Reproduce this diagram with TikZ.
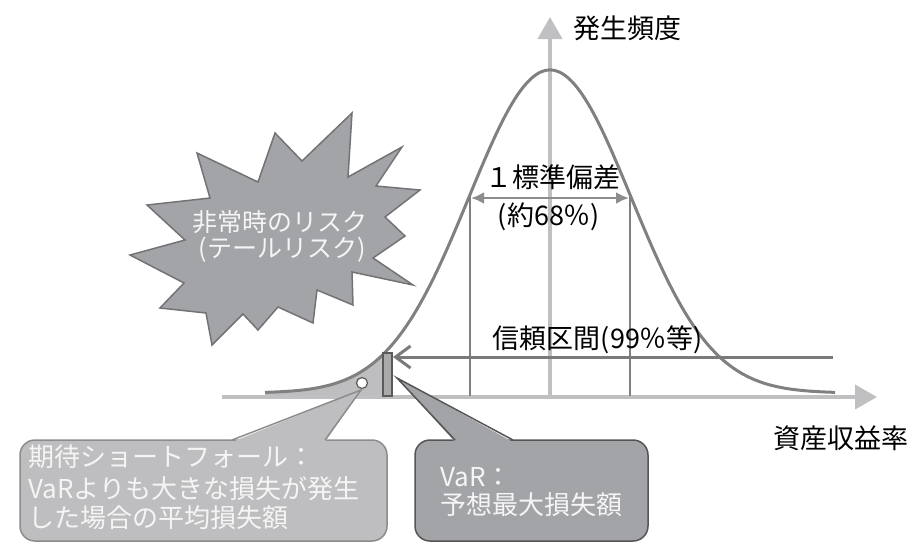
\documentclass[tikz,border=0pt]{standalone}
\usepackage{fontspec}
\setmainfont{Noto Sans CJK JP}
\usetikzlibrary{arrows.meta}
\definecolor{axisgray}{RGB}{192,192,194}
\definecolor{curvegray}{RGB}{128,128,128}
\definecolor{burstfill}{RGB}{163,164,168}
\definecolor{burstdraw}{RGB}{115,115,118}
\definecolor{lightfill}{RGB}{190,190,192}
\definecolor{boxonedraw}{RGB}{140,140,140}
\definecolor{boxtwodraw}{RGB}{85,85,85}
\definecolor{bardraw}{RGB}{90,90,90}
\definecolor{barfill}{RGB}{170,170,170}
\definecolor{txtwhite}{RGB}{245,245,245}
\tikzset{
  axisline/.style={draw=axisgray, line width=4pt, -{Triangle[length=22pt,width=24pt]}},
  sigline/.style={draw=curvegray, line width=2pt},
  lbl/.style={font=\fontsize{27}{30}\selectfont, text=black, inner sep=0pt},
  bursttxt/.style={font=\fontsize{25}{28}\selectfont, text=txtwhite, inner sep=0pt},
  boxtxt/.style={font=\fontsize{26}{30}\selectfont, text=txtwhite, inner sep=0pt, anchor=west},
}
\begin{document}
\begin{tikzpicture}[x=1pt,y=-1pt]
\useasboundingbox (0,0) rectangle (917,542);
% shaded tail
\fill[lightfill] plot[domain=265:385,samples=80] (\x,{393-323*exp(-((\x-550)/81)^2/2)}) -- (385,397) -- (265,397) -- cycle;
% axes
\coordinate (xo) at (222,397);
\coordinate (xe) at (877,397);
\coordinate (yo) at (550,397);
\coordinate (ye) at (550,17);
\draw[axisline] (xo) -- (xe);
\draw[axisline] (yo) -- (ye);
% sigma lines
\coordinate (sl) at (470,{393-323*exp(-((470-550)/81)^2/2)});
\coordinate (sr) at (630,{393-323*exp(-((630-550)/81)^2/2)});
\coordinate (slb) at (470,396);
\coordinate (srb) at (630,396);
\draw[sigline] (sl) -- (slb);
\draw[sigline] (sr) -- (srb);
% curve
\draw[curvegray, line width=3pt] plot[domain=265:835,samples=220] (\x,{393-323*exp(-((\x-550)/81)^2/2)});
% 1 sigma arrow
\coordinate (al) at (471,198);
\coordinate (ar) at (629,198);
\draw[draw=curvegray!90, line width=2.5pt, {Latex[length=13pt,width=12pt]}-{Latex[length=13pt,width=12pt]}] (al) -- (ar);
\node[lbl] (sig) at (553,177) {１標準偏差};
\node[lbl] (pct) at (549,217) {(約68％)};
% VaR bar
\node[draw=bardraw, fill=barfill, line width=2pt, minimum width=9pt, minimum height=43pt, inner sep=0pt] (bar) at (387,374) {};
% confidence arrow
\coordinate (cs) at (833,357);
\coordinate (ce) at (393,357);
\draw[draw=curvegray!95!black, line width=3pt, -{Straight Barb[length=15pt,width=22pt,line width=3pt]}] (cs) -- (ce);
\node[lbl] (conf) at (598,340) {信頼区間(99％等)};
% expected shortfall dot
\node[circle, draw=bardraw, fill=white, line width=1.2pt, minimum size=11pt, inner sep=0pt] (es) at (362,383) {};
% starburst
\draw[fill=burstfill, draw=burstdraw, line width=1.5pt, line join=miter]
 (352,113) -- (348,177) -- (402,147) -- (376,186) -- (420,190) -- (385,217)
 -- (405,236) -- (373,258) -- (413,285) -- (352,272) -- (353,305) -- (317,290)
 -- (313,323) -- (278,307) -- (258,330) -- (243,314) -- (212,345) -- (206,313)
 -- (160,308) -- (184,283) -- (130,255) -- (185,240) -- (147,205) -- (210,198)
 -- (197,153) -- (258,182) -- (275,133) -- (302,161) -- cycle;
\node[bursttxt] (b1) at (280,222) {非常時のリスク};
\node[bursttxt] (b2) at (282,250) {(テールリスク)};
% axis labels
\node[lbl] (freq) at (627,28) {発生頻度};
\node[lbl] (ret) at (841,438) {資産収益率};
% box 1
\draw[fill=lightfill, draw=boxonedraw, line width=1.5pt, rounded corners=15pt] (20,440) rectangle (387,541);
\coordinate (p1a) at (232,440);
\coordinate (p1b) at (325,440);
\coordinate (p1c) at (361,390);
\fill[lightfill] (232,442) -- (p1c) -- (325,442) -- cycle;
\draw[draw=boxonedraw, line width=1.5pt, line join=miter] (p1a) -- (p1c) -- (p1b);
\node[boxtxt] (e1) at (28,457) {期待ショートフォール：};
\node[boxtxt] (e2) at (28,489) {VaRよりも大きな損失が発生};
\node[boxtxt] (e3) at (28,518) {した場合の平均損失額};
% box 2
\draw[fill=burstfill, draw=boxtwodraw, line width=1.5pt, rounded corners=15pt] (415,440) rectangle (648,541);
\coordinate (p2a) at (455,440);
\coordinate (p2b) at (513,440);
\coordinate (p2c) at (397,378);
\fill[burstfill] (455,442) -- (p2c) -- (513,442) -- cycle;
\draw[draw=boxtwodraw, line width=1.5pt, line join=miter] (p2a) -- (p2c) -- (p2b);
\node[boxtxt] (v1) at (440,477) {VaR：};
\node[boxtxt] (v2) at (440,505) {予想最大損失額};
\end{tikzpicture}
\end{document}
